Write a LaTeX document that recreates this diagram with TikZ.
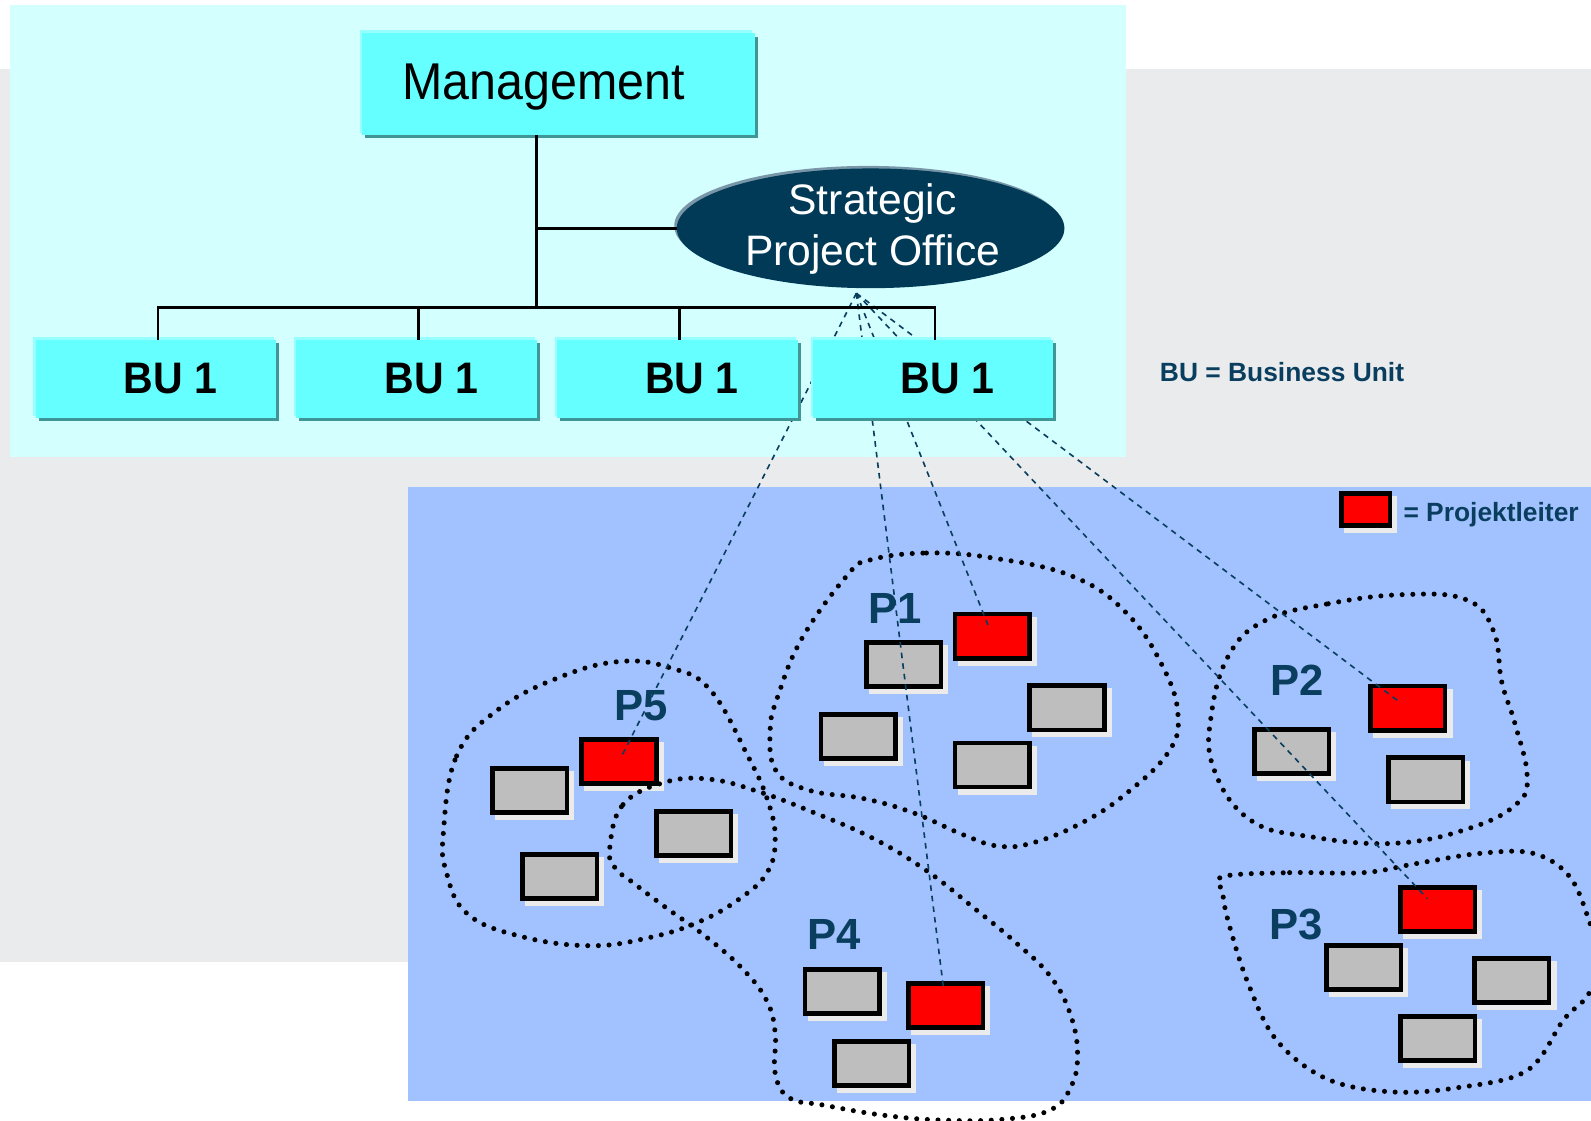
\documentclass[tikz,border=0pt]{standalone}
\usepackage{fontspec}
\setmainfont{Liberation Sans}
\usetikzlibrary{shapes.geometric,calc}
\definecolor{navy}{RGB}{10,62,95}
\definecolor{spofill}{RGB}{0,58,87}
\definecolor{spohl}{RGB}{120,150,168}
\definecolor{bggray}{RGB}{234,235,237}
\definecolor{panelcyan}{RGB}{212,255,255}
\definecolor{panelblue}{RGB}{162,193,255}
\definecolor{cyanbox}{RGB}{102,255,255}
\definecolor{cyanhl}{RGB}{150,255,255}
\definecolor{cyanshadow}{RGB}{64,150,150}
\definecolor{boxgray}{RGB}{190,190,190}
\definecolor{boxshade}{RGB}{235,235,235}
\newcommand\projbox[4]{%
  \fill[boxshade] (#2-34,#3-19) rectangle (#2+44,#3+29);
  \node[pbox, fill=#4] (#1) at (#2,#3) {};
}
\newcommand\bubox[2]{%
  \fill[cyanhl] (#2-2,332) rectangle (#2+235,410);
  \fill[cyanshadow] (#2+3,338) rectangle (#2+240,415);
  \node[bunode] (#1) at (#2+118.5,373.5) {\hspace*{29pt}\scalebox{0.93}[1]{BU 1}};
}
\begin{document}
\begin{tikzpicture}[x=1pt,y=-1pt,
  pbox/.style={draw=black, line width=4.5pt, minimum width=73.5pt, minimum height=43.5pt, inner sep=0pt},
  legbox/.style={draw=black, line width=4.5pt, minimum width=47.5pt, minimum height=31.5pt, inner sep=0pt, fill=red},
  bunode/.style={fill=cyanbox, minimum width=237pt, minimum height=77pt, inner sep=0pt, font=\fontsize{43.5}{43.5}\selectfont\bfseries},
  dotline/.style={line width=5pt, line cap=round, dash pattern=on 0pt off 10.5pt, black},
  link/.style={navy, line width=1.6pt, dash pattern=on 5.5pt off 5pt},
  tree/.style={black, line width=2.5pt},
  plabel/.style={anchor=base west, navy, inner sep=0pt, font=\fontsize{43}{43}\selectfont\bfseries},
  note/.style={anchor=base west, navy, inner sep=0pt, font=\fontsize{26}{26}\selectfont\bfseries}]
\useasboundingbox (0,0) rectangle (1568,1104);
\fill[white] (0,0) rectangle (1568,1104);
\fill[bggray] (0,68) rectangle (1568,948);
\fill[panelcyan] (10,5) rectangle (1110,450);
\fill[panelblue] (402,480) rectangle (1568,1085);

% project boxes
\projbox{p1r}{978}{627}{red}
\projbox{p1a}{890.5}{655}{boxgray}
\projbox{p1b}{846}{726}{boxgray}
\projbox{p1c}{1051.5}{697.5}{boxgray}
\projbox{p1d}{978}{754}{boxgray}
\projbox{p5r}{610}{750.5}{red}
\projbox{p5a}{522}{779}{boxgray}
\projbox{p5b}{551.5}{864}{boxgray}
\projbox{p5c}{683.5}{821.5}{boxgray}
\projbox{p2r}{1387.5}{698}{red}
\projbox{p2a}{1273}{740.5}{boxgray}
\projbox{p2b}{1405}{768.5}{boxgray}
\projbox{p3r}{1417}{896.5}{red}
\projbox{p3a}{1344}{953.5}{boxgray}
\projbox{p3b}{1490}{966.5}{boxgray}
\projbox{p3c}{1417}{1023.5}{boxgray}
\projbox{p4a}{830}{977}{boxgray}
\projbox{p4r}{932}{991}{red}
\projbox{p4b}{859}{1048}{boxgray}

% dotted project outlines
\draw[dotline] plot[smooth cycle, tension=0.7] coordinates {(857,552) (913,545) (979,550) (1057,568) (1110,604) (1146,657) (1161,705) (1151,742) (1110,782) (1068,810) (1020,830) (985,834) (950,823) (900,801) (851,787) (798,779) (765,760) (759,720) (767,685) (791,628) (835,567)};
\draw[dotline] plot[smooth cycle, tension=0.7] coordinates {(1248,611) (1309,595) (1383,586) (1445,591) (1472,622) (1480,672) (1493,713) (1505,764) (1495,792) (1449,816) (1376,831) (1294,825) (1232,808) (1196,757) (1194,703) (1212,644)};
\draw[dotline] plot[smooth cycle, tension=0.6] coordinates {(1205,864) (1271,860) (1344,860) (1396,851) (1459,841) (1511,841) (1547,864) (1567,910) (1578,950) (1564,982) (1541,1005) (1505,1055) (1436,1072) (1370,1076) (1307,1063) (1258,1025) (1230,969) (1211,910) (1205,880)};
\draw[dotline] plot[smooth cycle, tension=0.7] coordinates {(437,820) (450,745) (490,700) (550,668) (610,652) (660,658) (700,680) (737,745) (757,790) (764,828) (756,860) (730,885) (690,908) (640,924) (580,932) (510,922) (460,900) (440,860)};
\draw[dotline] plot[smooth cycle, tension=0.7] coordinates {(601,835) (614,793) (655,771) (700,768) (750,781) (800,800) (860,826) (913,858) (960,895) (1000,928) (1035,962) (1055,1000) (1062,1040) (1055,1072) (1035,1094) (990,1103) (930,1104) (870,1099) (811,1089) (778,1082) (764,1058) (764,1018) (755,985) (730,953) (693,921) (657,895) (624,870) (606,855)};

% project labels
\node[plabel] (lp1) at (856,614) {P1};
\node[plabel] (lp5) at (605,710) {P5};
\node[plabel] (lp2) at (1252,685) {P2};
\node[plabel] (lp3) at (1251,926) {P3};
\node[plabel] (lp4) at (796,936) {P4};

% legends
\fill[boxshade] (1325,489) rectangle (1377,525);
\node[legbox] (legred) at (1346,502) {};
\node[note] (legtext) at (1383,514) {= Projektleiter};
\node[note] (bunote) at (1143,376) {BU = Business Unit};

% dashed links from the strategic project office
\coordinate (hub) at (844,289);
\draw[link, shorten >=5pt] (hub) -- (p5r.center);
\draw[link, shorten >=15pt] (hub) -- (p4r.center);
\draw[link, shorten >=12pt] (hub) -- (p1r.center);
\draw[link, shorten >=15pt] (hub) -- (p3r.center);
\draw[link, shorten >=12pt] (hub) -- (p2r.center);

% business units
\bubox{bu1}{35}
\bubox{bu2}{292}
\bubox{bu3}{549}
\bubox{bu4}{801}

% management box
\fill[cyanhl] (355,30) rectangle (741,131);
\fill[cyanshadow] (360,36) rectangle (747,136);
\node[fill=cyanbox, minimum width=387pt, minimum height=100pt, inner sep=0pt] (mgmt) at (550.5,83) {};
\node[anchor=base west, inner sep=0pt, font=\fontsize{51}{51}\selectfont] (mgmttext) at (396.5,98.5) {\scalebox{0.935}[1]{Management}};

% strategic project office
\node[ellipse, fill=spohl, minimum width=382pt, minimum height=118pt, inner sep=0pt] (spohlt) at (855.5,222.5) {};
\node[ellipse, fill=spofill, minimum width=382pt, minimum height=118pt, inner sep=0pt] (spo) at (858,225) {};
\node[anchor=base, white, inner sep=0pt, font=\fontsize{42}{42}\selectfont] (spo1) at (860,211) {Strategic};
\node[anchor=base, white, inner sep=0pt, font=\fontsize{42}{42}\selectfont] (spo2) at (860,262) {Project Office};

% tree
\coordinate (trunk) at (529,303);
\draw[tree] (trunk |- mgmt.south) -- (trunk);
\draw[tree] (trunk |- spo.west) -- (spo.west);
\draw[tree] ([xshift=2pt]bu1.north) -- ([xshift=2pt]bu1.north |- trunk) -- ([xshift=2pt]bu4.north |- trunk) -- ([xshift=2pt]bu4.north);
\draw[tree] ([xshift=2pt]bu2.north) -- ([xshift=2pt]bu2.north |- trunk);
\draw[tree] ([xshift=2pt]bu3.north) -- ([xshift=2pt]bu3.north |- trunk);
\end{tikzpicture}
\end{document}
